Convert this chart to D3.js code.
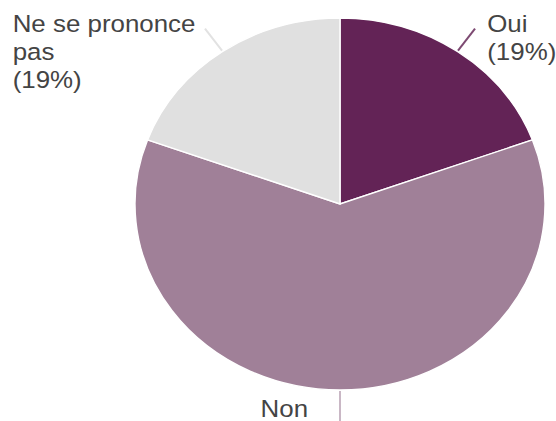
<!DOCTYPE html>
<html><head><meta charset="utf-8">
<script src="https://cdn.jsdelivr.net/npm/d3@7"></script>
<style>html,body{margin:0;padding:0;background:#fff;}svg{display:block;}</style>
</head><body>
<svg id="chart" width="556" height="421"></svg>
<script>
const categories = ["Oui", "Non", "Ne se prononce pas"];
const values = [19.4, 61.2, 19.4];
const labelLines = [["Oui", "(19%)"], ["Non"], ["Ne se prononce", "pas", "(19%)"]];
const colors = ["#632356", "#a08098", "#e0e0e0"];
const leaderColors = ["#7d4a72", "#c9b7c5", "#e2e2e2"];

const W = 556, H = 421;
const cx = 340, cy = 204, r = 186, sx = 205 / 186;
const svg = d3.select("#chart");
const g = svg.append("g").attr("transform", `translate(${cx},${cy}) scale(${sx},1)`);

const pie = d3.pie().sort(null).value(d => d)(values);
const arc = d3.arc().innerRadius(0).outerRadius(r);

g.selectAll("path.slice").data(pie).join("path")
  .attr("class", "slice")
  .attr("d", arc)
  .attr("fill", (d, i) => colors[i])
  .attr("stroke", "#fff")
  .attr("stroke-width", 1.4)
  .attr("vector-effect", "non-scaling-stroke");

// leader lines
const leaderLen = [28, 34, 28];
g.selectAll("line.leader").data(pie).join("line")
  .attr("class", "leader")
  .each(function(d, i) {
    const a = (d.startAngle + d.endAngle) / 2;
    const r1 = r + 1, r2 = r + leaderLen[i];
    d3.select(this)
      .attr("x1", r1 * Math.sin(a)).attr("y1", -r1 * Math.cos(a))
      .attr("x2", r2 * Math.sin(a)).attr("y2", -r2 * Math.cos(a));
  })
  .attr("stroke", (d, i) => leaderColors[i])
  .attr("stroke-width", 2)
  .attr("vector-effect", "non-scaling-stroke");

const labelPos = [
  {x: 133.6, y: -172, anchor: "start"},
  {x: -29, y: 213, anchor: "end"},
  {x: -297, y: -172, anchor: "start"}
];
const lineH = 28;
const labels = g.selectAll("text.lbl").data(pie).join("text")
  .attr("class", "lbl")
  .attr("font-family", "'Liberation Sans', Arial, sans-serif")
  .attr("font-size", 23.5)
  .attr("fill", "#444")
  .attr("text-anchor", (d, i) => labelPos[i].anchor)
  .attr("x", (d, i) => labelPos[i].x)
  .attr("y", (d, i) => labelPos[i].y);
labels.each(function(d, i) {
  d3.select(this).selectAll("tspan").data(labelLines[i]).join("tspan")
    .attr("x", labelPos[i].x)
    .attr("dy", (t, j) => j === 0 ? 0 : lineH)
    .text(t => t);
});
</script>
</body></html>
